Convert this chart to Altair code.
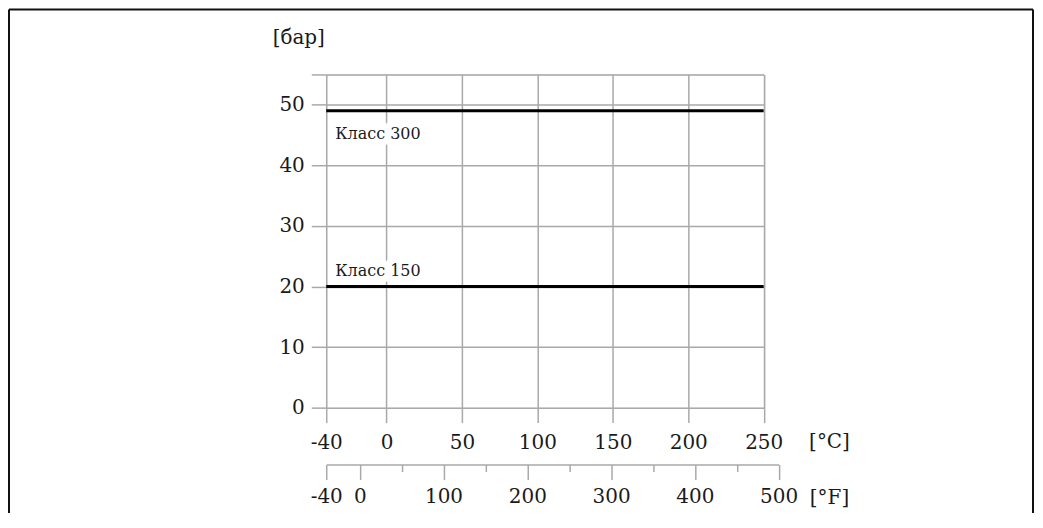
import altair as alt
import pandas as pd

# ---- data ----
temp_c = [-40, 250]                 # temperature range of both rating lines [°C]
class300_bar = [49.0, 49.0]         # Класс 300 pressure [bar]
class150_bar = [20.0, 20.0]         # Класс 150 pressure [bar]
series_names = ["Класс 300", "Класс 150"]

c_ticks = [-40, 0, 50, 100, 150, 200, 250]
p_ticks = [0, 10, 20, 30, 40, 50, 55]
f_ticks = [-40, 0, 100, 200, 300, 400, 500]
f_minor = [50, 150, 250, 350, 450]

label_x = [-34, -34]
label_y = [44.4, 21.7]

FONT = "DejaVu Serif"
GRID = "#a9a9a9"
TXT = "#1a1a1a"
W, H = 438.5, 334

lines_df = pd.DataFrame({
    "temp": temp_c + temp_c,
    "pressure": class300_bar + class150_bar,
    "cls": [series_names[0]] * 2 + [series_names[1]] * 2,
})
labels_df = pd.DataFrame({"lx": label_x, "ly": label_y, "txt": series_names})
f_df = pd.DataFrame({"f": f_ticks})
fm_df = pd.DataFrame({"fm": f_minor})

x_c_scale = alt.Scale(domain=[-40, 250], nice=False)
y_scale = alt.Scale(domain=[0, 55], nice=False)

lines = alt.Chart(lines_df).mark_line(color="black", strokeWidth=3).encode(
    x=alt.X("temp:Q", scale=x_c_scale,
            axis=alt.Axis(values=c_ticks, grid=True, gridColor=GRID, gridWidth=1.5,
                          domain=False, tickSize=15, tickColor=GRID, tickWidth=1.5,
                          labelFont=FONT, labelFontSize=20, labelColor=TXT,
                          labelPadding=20, labelBaseline="middle",
                          labelExpr="'' + datum.value", labelOverlap=False, labelFlush=False,
                          title="[°C]", titleFont=FONT, titleFontSize=20,
                          titleFontWeight="normal", titleColor=TXT,
                          titleX=504, titleY=34, titleAlign="center",
                          titleBaseline="middle", titleAngle=0)),
    y=alt.Y("pressure:Q", scale=y_scale,
            axis=alt.Axis(values=p_ticks, grid=True, gridColor=GRID, gridWidth=1.5,
                          domain=False, tickSize=15, tickColor=GRID, tickWidth=1.5,
                          labelFont=FONT, labelFontSize=20, labelColor=TXT,
                          labelPadding=7, labelBaseline="middle",
                          labelExpr="datum.value > 50 ? '' : '' + datum.value",
                          labelOverlap=False, labelFlush=False,
                          title="[бар]", titleFont=FONT, titleFontSize=20,
                          titleFontWeight="normal", titleColor=TXT,
                          titleX=-28, titleY=-37, titleAlign="center",
                          titleBaseline="middle", titleAngle=0)),
    detail="cls:N",
)

halo = alt.Chart(labels_df).mark_text(
    align="left", baseline="alphabetic", font=FONT, fontSize=16,
    color="white", stroke="white", strokeWidth=14, strokeJoin="round"
).encode(
    x=alt.X("lx:Q", scale=x_c_scale, axis=None),
    y=alt.Y("ly:Q", scale=y_scale),
    text="txt:N",
)
texts = alt.Chart(labels_df).mark_text(
    align="left", baseline="alphabetic", font=FONT, fontSize=16, color=TXT
).encode(
    x=alt.X("lx:Q", scale=x_c_scale, axis=None),
    y=alt.Y("ly:Q", scale=y_scale),
    text="txt:N",
)

f_axis = alt.Chart(f_df).mark_point(opacity=0).encode(
    x=alt.X("f:Q", scale=alt.Scale(domain=[-40, 500], range=[0, 453.5], nice=False),
            axis=alt.Axis(orient="bottom", offset=57, values=f_ticks, grid=False,
                          domain=True, domainColor=GRID, domainWidth=1.5,
                          tickSize=15, tickColor=GRID, tickWidth=1.5,
                          labelFont=FONT, labelFontSize=20, labelColor=TXT,
                          labelPadding=17, labelBaseline="middle",
                          labelExpr="'' + datum.value", labelOverlap=False, labelFlush=False,
                          title="[°F]", titleFont=FONT, titleFontSize=20,
                          titleFontWeight="normal", titleColor=TXT,
                          titleX=504, titleY=33, titleAlign="center",
                          titleBaseline="middle", titleAngle=0)),
)

f_minor_axis = alt.Chart(fm_df).mark_point(opacity=0).encode(
    x=alt.X("fm:Q", scale=alt.Scale(domain=[-40, 500], range=[0, 453.5], nice=False),
            axis=alt.Axis(orient="bottom", offset=57, values=f_minor, grid=False,
                          domain=False, labels=False, tickSize=7, tickColor=GRID,
                          tickWidth=1.5, title="")),
)

frame_left = alt.Chart().mark_rule(color="#111", strokeWidth=2).encode(
    x=alt.value(-318), y=alt.value(-65), y2=alt.value(440))
frame_right = alt.Chart().mark_rule(color="#111", strokeWidth=2).encode(
    x=alt.value(708.5), y=alt.value(-65), y2=alt.value(440))
frame_top = alt.Chart().mark_rule(color="#111", strokeWidth=2).encode(
    x=alt.value(-318), x2=alt.value(708.5), y=alt.value(-65))

chart = alt.layer(
    lines, halo, texts, f_axis, f_minor_axis, frame_left, frame_right, frame_top
).resolve_scale(x="independent").properties(
    width=W, height=H,
    autosize=alt.AutoSizeParams(type="none"),
    padding={"left": 319, "top": 66, "right": 272, "bottom": 105},
).configure_view(stroke=None).configure(font=FONT, background="white")

chart.save("out.html", embed_options={"renderer": "svg", "actions": False})
